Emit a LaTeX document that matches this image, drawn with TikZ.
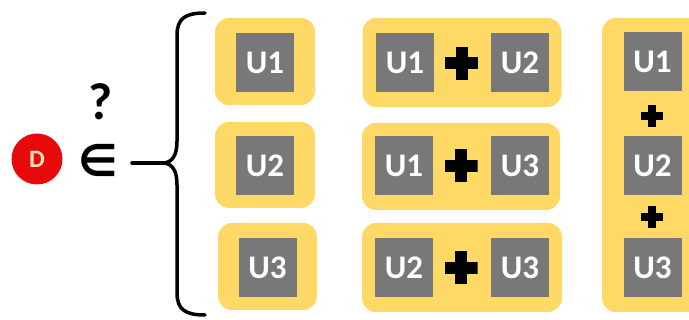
\documentclass[tikz,border=0pt]{standalone}
\usepackage{fontspec}
\setmainfont{Carlito}
\newfontfamily\elemfont{DejaVu Sans}
\usetikzlibrary{positioning}
\definecolor{gold}{HTML}{FFD966}
\definecolor{slate}{HTML}{787878}
\definecolor{alarm}{HTML}{E60A0A}
\definecolor{cream}{HTML}{FBE3C2}
\tikzset{
  setbox/.style={fill=gold,rounded corners=14pt,inner sep=0pt},
  user/.style={fill=slate,minimum width=58pt,minimum height=59pt,
               inner sep=0pt,text=white,
               font=\fontsize{33}{33}\selectfont\bfseries},
  plusmark/.style 2 args={minimum size=#1,inner sep=0pt,
    path picture={
      \fill[black] ([yshift=-#2/2]path picture bounding box.west)
        rectangle ([yshift=#2/2]path picture bounding box.east);
      \fill[black] ([xshift=-#2/2]path picture bounding box.south)
        rectangle ([xshift=#2/2]path picture bounding box.north);}},
  bracepen/.style={line width=3.5pt,line cap=round,draw=black}
}
\begin{document}
\begin{tikzpicture}[x=1pt,y=-1pt]
    \path[use as bounding box] (0,0) rectangle (689,320);
    \clip (0,0) rectangle (689,320);
    % device and membership
    \node[circle,fill=alarm,minimum size=51pt,inner sep=0pt,text=cream,
          font=\fontsize{25}{25}\selectfont\bfseries] (d) at (37,159) {D};
    \node[font=\fontsize{52}{52}\selectfont\bfseries] (ask) at (101,102) {?};
    \node[font=\elemfont\bfseries\fontsize{44}{44}\selectfont] (elem) at (98,160) {∈};
    \coordinate (stem) at (132,163);
    \coordinate (tip) at (164,163);
    \draw[bracepen] (stem) -- (tip);
    \draw[bracepen] (205,13) .. controls (186,13) and (177,18) .. (177,35)
      -- (177,141) .. controls (177,156) and (172,162) .. (tip)
      .. controls (172,164) and (177,170) .. (177,185)
      -- (177,293) .. controls (177,310) and (186,315) .. (205,315);

    % single users
    \node[setbox,minimum width=100pt,minimum height=87pt] (one1) at (265,61.5) {};
    \node[setbox,minimum width=100pt,minimum height=86pt] (one2) at (265,165) {};
    \node[setbox,minimum width=99pt,minimum height=87pt] (one3) at (267.5,266.5) {};
    \node[user] (a1) at (265,62.5) {U1};
    \node[user] (a2) at (265,166) {U2};
    \node[user] (a3) at (267.5,267.5) {U3};

    % pairs
    \node[setbox,minimum width=199pt,minimum height=89pt] (pair12) at (462,62.5) {};
    \node[setbox,minimum width=198pt,minimum height=87pt] (pair13) at (461,166.5) {};
    \node[setbox,minimum width=200pt,minimum height=89pt] (pair23) at (462,267.5) {};
    \node[user] (b1) at (405,62.5) {U1};
    \node[plusmark={33pt}{12pt}] (bp1) at (461.5,63.5) {};
    \node[user] (b2) at (520,62.5) {U2};
    \node[user] (c1) at (404,166) {U1};
    \node[plusmark={33pt}{12pt}] (cp1) at (461,166) {};
    \node[user] (c3) at (520,166) {U3};
    \node[user] (e2) at (404,267.5) {U2};
    \node[plusmark={33pt}{12pt}] (ep1) at (461,268) {};
    \node[user] (e3) at (520,267.5) {U3};

    % all three
    \node[setbox,minimum width=101pt,minimum height=294pt] (all) at (652.5,165) {};
    \node[user] (f1) at (652.5,62) {U1};
    \node[plusmark={22pt}{8pt}] (fp1) at (652,116) {};
    \node[user] (f2) at (652.5,166) {U2};
    \node[plusmark={22pt}{8pt}] (fp2) at (652,217) {};
    \node[user] (f3) at (652.5,267.5) {U3};
  \end{tikzpicture}
\end{document}
